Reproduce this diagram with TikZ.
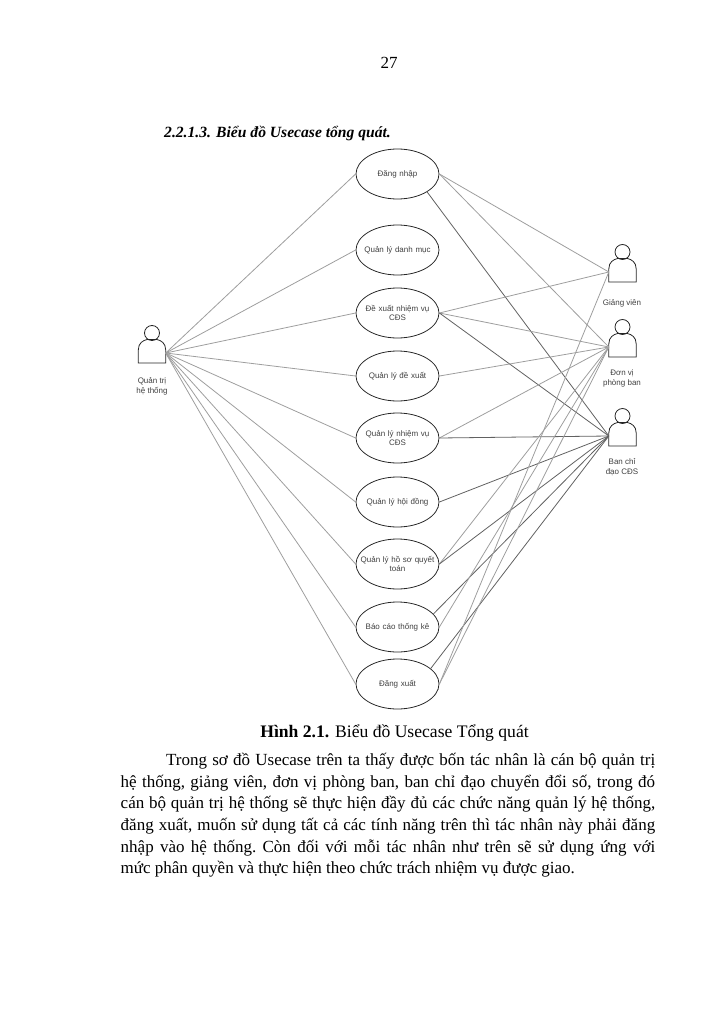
\documentclass[tikz,border=0pt]{standalone}
\usepackage{fontspec}
\setmainfont{Liberation Serif}
\setsansfont{Liberation Sans}
\usetikzlibrary{positioning,shapes.geometric}

\begin{document}
\begin{tikzpicture}
  [x=1pt,y=-1pt,on grid,
   usecase/.style={ellipse,draw=black!85,line width=.8pt,minimum width=83pt,minimum height=50pt,inner ysep=0pt,inner xsep=-11pt,
     text width=80pt,align=center,text=black!75,font=\sffamily\fontsize{8}{9.6}\selectfont},
   actorlabel/.style={align=center,text=black!75,font=\sffamily\fontsize{8}{10}\selectfont},
   link/.style={draw=black!38,line width=.8pt},
   dark link/.style={draw=black!62,line width=.8pt},
   body text/.style={font=\fontsize{17}{21.67}\selectfont},
   pics/actor/.style={code={
     \draw [black!85,line width=.8pt] (0,0) circle [radius=7.5pt];
     \draw [black!85,line width=.8pt] (-13.7,30) -- (-13.7,17) .. controls (-13.7,10) and (-9,7.5) .. (-5,6.5)
       -- (5,6.5) .. controls (9,7.5) and (13.7,10) .. (13.7,17) -- (13.7,30) -- cycle;
     \coordinate (-left) at (-13.7,20);
     \coordinate (-right) at (13.7,20);
   }}]
  \useasboundingbox (0,0) rectangle (723,1024);

  % cac use case
  \node [usecase] (dn) at (397.5,174)  {Đăng nhập};
  \node [usecase] (dm) [below=76pt of dn] {Quản lý danh mục};
  \node [usecase] (dx) [below=63pt of dm] {Đề xuất nhiệm vụ\\CĐS};
  \node [usecase] (qd) [below=63pt of dx] {Quản lý đề xuất};
  \node [usecase] (nv) [below=62pt of qd] {Quản lý nhiệm vụ\\CĐS};
  \node [usecase] (hd) [below=64pt of nv] {Quản lý hội đồng};
  \node [usecase] (hs) [below=62pt of hd] {Quản lý hồ sơ quyết\\toán};
  \node [usecase] (bc) [below=63pt of hs] {Báo cáo thống kê};
  \node [usecase] (ra) [below=57pt of bc] {Đăng xuất};

  % cac tac nhan
  \pic (qt) at (152,333) {actor};
  \pic (gv) at (622.5,252) {actor};
  \pic (dv) at (622.5,327) {actor};
  \pic (bl) at (622.5,416) {actor};
  \node [actorlabel] (qtname) at (152,386) {Quản trị\\hệ thống};
  \node [actorlabel] (gvname) at (622,303) {Giảng viên};
  \node [actorlabel] (dvname) at (622,378) {Đơn vị\\phòng ban};
  \node [actorlabel] (blname) at (622,467) {Ban chỉ\\đạo CĐS};

  % quan tri noi toi tat ca
  \foreach \uc in {dn,dm,dx,qd,nv,hd,hs,bc,ra}
    \draw [link] (qt-right) -- (\uc.west);

  \draw [link] (dn.east) -- (gv-left);
  \draw [link] (dn.east) -- (dv-left);
  \draw [dark link] (dn.south east) -- (bl-left);
  \draw [link] (dx.east) -- (gv-left);
  \draw [link] (dx.east) -- (dv-left);
  \draw [dark link] (dx.east) -- (bl-left);
  \draw [link] (qd.east) -- (dv-left);
  \draw [link] (nv.east) -- (dv-left);
  \draw [dark link] (nv.east) -- (bl-left);
  \draw [dark link] (hd.east) -- (bl-left);
  \draw [link] (hs.east) -- (dv-left);
  \draw [dark link] (hs.east) -- (bl-left);
  \draw [dark link] (bc.20) -- (bl-left);
  \draw [link] (bc.east) -- (dv-left);
  \draw [dark link] (ra.25) -- (bl-left);
  \draw [link] (ra.east) -- (gv-left);
  \draw [link] (ra.east) -- (dv-left);

  % phan chu cua trang
  \node [body text] (pageno) at (389,63) {27};
  \node [anchor=west,font=\fontsize{15.6}{18}\selectfont] (heading) at (160.7,134) {\bfseries\itshape 2.2.1.3. Biểu đồ Usecase tổng quát.};
  \node [font=\fontsize{17.6}{21}\selectfont] (caption) at (394.5,733) {\textbf{Hình 2.1.} Biểu đồ Usecase Tổng quát};
  \node [body text,anchor=north west,text width=534.5pt,align=justify,inner sep=0pt] (para) at (120.5,753)
    {\frenchspacing\hspace*{45.5pt}Trong sơ đồ Usecase trên ta thấy được bốn tác nhân là cán bộ quản trị\linebreak
     hệ thống, giảng viên, đơn vị phòng ban, ban chỉ đạo chuyển đổi số, trong đó\linebreak
     cán bộ quản trị hệ thống sẽ thực hiện đầy đủ các chức năng quản lý hệ thống,\linebreak
     đăng xuất, muốn sử dụng tất cả các tính năng trên thì tác nhân này phải đăng\linebreak
     nhập vào hệ thống. Còn đối với mỗi tác nhân như trên sẽ sử dụng ứng với\linebreak
     mức phân quyền và thực hiện theo chức trách nhiệm vụ được giao.\par};
\end{tikzpicture}
\end{document}
